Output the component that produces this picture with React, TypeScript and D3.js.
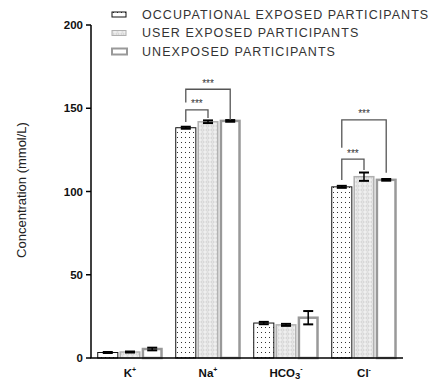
import * as d3 from "d3";

const ions = ["K", "Na", "HCO3", "Cl"];
const ionBase = ["K", "Na", "HCO", "Cl"];
const ionSub = ["", "", "3", ""];
const ionSup = ["+", "+", "-", "-"];

const seriesNames = [
  "OCCUPATIONAL EXPOSED PARTICIPANTS",
  "USER EXPOSED PARTICIPANTS",
  "UNEXPOSED PARTICIPANTS",
];
const occupational = [3.3, 138.3, 21.0, 102.8];
const occupationalErr = [0.3, 0.6, 0.7, 0.6];
const userExposed = [3.6, 141.9, 19.9, 108.9];
const userExposedErr = [0.3, 0.8, 0.6, 2.5];
const unexposed = [5.4, 142.4, 24.2, 107.0];
const unexposedErr = [0.8, 0.5, 4.0, 0.5];

const yTicks = [0, 50, 100, 150, 200];

// significance brackets: group, from series, to series, bracket level, leg ends
const sigGroup = ["Na", "Na", "Cl", "Cl"];
const sigFrom = [0, 0, 0, 0];
const sigTo = [1, 2, 1, 2];
const sigLevel = [149, 161.4, 119.5, 143];
const sigLeftEnd = [141.7, 153.5, 106.9, 126.3];
const sigRightEnd = [144.1, 142.9, 112.9, 111.3];
const sigLabel = ["***", "***", "***", "***"];

const values = [occupational, userExposed, unexposed];
const errors = [occupationalErr, userExposedErr, unexposedErr];
const fills = ["url(#dots)", "url(#rings)", "#ffffff"];
const strokes = ["#111111", "#b0b0b0", "#999999"];
const strokeWidths = [1, 1.5, 2.5];

export default function App() {
  const width = 435;
  const height = 381;
  const x0 = d3.scaleBand(ions, [91, 403]).paddingInner(0.16).paddingOuter(0.08);
  const x1 = d3.scaleBand([0, 1, 2], [0, x0.bandwidth()]).paddingInner(0.05);
  const y = d3.scaleLinear([0, 200], [358, 25]);
  const font = "Arial, 'Liberation Sans', sans-serif";
  const cx = (g: string, s: number) => x0(g)! + x1(s)! + x1.bandwidth() / 2;

  return (
    <svg width={width} height={height} style={{ position: "absolute", left: 0, top: 0 }} fontFamily={font}>
      <defs>
        <pattern id="dots" width="4" height="5" patternUnits="userSpaceOnUse">
          <rect width="4" height="5" fill="#ffffff" />
          <rect x="1" y="2" width="1" height="1" fill="#333" />
        </pattern>
        <pattern id="rings" width="5" height="4" patternUnits="userSpaceOnUse">
          <rect width="5" height="4" fill="#efefef" />
          <ellipse cx="2.5" cy="2" rx="1.6" ry="1.1" fill="none" stroke="#c4c4c4" strokeWidth="0.7" />
        </pattern>
      </defs>

      {/* bars */}
      {ions.map((g, i) => (
        <g key={g}>
          {values.map((vals, s) => {
            const bx = x0(g)! + x1(s)!;
            const bw = x1.bandwidth();
            const sw = strokeWidths[s];
            return (
              <rect
                key={s}
                x={bx + sw / 2}
                y={y(vals[i])}
                width={bw - sw}
                height={y(0) - y(vals[i])}
                fill={fills[s]}
                stroke={strokes[s]}
                strokeWidth={sw}
              />
            );
          })}
          {values.map((vals, s) => {
            const c = cx(g, s);
            const top = y(vals[i] + errors[s][i]);
            const bot = y(vals[i] - errors[s][i]);
            return (
              <g key={"e" + s} stroke="#000" fill="none">
                <line x1={c} x2={c} y1={top} y2={bot} strokeWidth={1.5} />
                <line x1={c - 5} x2={c + 5} y1={top} y2={top} strokeWidth={2} />
                <line x1={c - 5} x2={c + 5} y1={bot} y2={bot} strokeWidth={2} />
              </g>
            );
          })}
        </g>
      ))}

      {/* significance brackets */}
      {sigGroup.map((g, k) => {
        const xa = cx(g, sigFrom[k]);
        const xb = cx(g, sigTo[k]);
        const yl = y(sigLevel[k]);
        return (
          <g key={"sig" + k}>
            <path
              d={`M${xa},${y(sigLeftEnd[k])}V${yl}H${xb}V${y(sigRightEnd[k])}`}
              fill="none"
              stroke="#555"
              strokeWidth={1.3}
            />
            <text x={(xa + xb) / 2} y={yl - 2.5} textAnchor="middle" fontSize={10} fill="#333">
              {sigLabel[k]}
            </text>
          </g>
        );
      })}

      {/* y axis */}
      <line x1={91} x2={91} y1={y(200)} y2={y(0)} stroke="#000" strokeWidth={1.5} />
      {yTicks.map((t) => (
        <g key={t}>
          <line x1={86} x2={91} y1={y(t)} y2={y(t)} stroke="#000" strokeWidth={1.5} />
          <text x={83} y={y(t)} dy="0.35em" textAnchor="end" fontSize={11.5} fontWeight="bold" fill="#111">
            {t}
          </text>
        </g>
      ))}
      <text
        transform={`translate(26,190) rotate(-90)`}
        textAnchor="middle"
        fontSize={13}
        fill="#222"
      >
        Concentration (mmol/L)
      </text>

      {/* x axis */}
      <line x1={90.25} x2={403} y1={y(0)} y2={y(0)} stroke="#000" strokeWidth={1.5} />
      {ions.map((g, i) => (
        <text
          key={g}
          x={x0(g)! + x0.bandwidth() / 2}
          y={377}
          textAnchor="middle"
          fontSize={11.5}
          fontWeight="bold"
          fill="#111"
        >
          {ionBase[i]}
          {ionSub[i] && (
            <tspan fontSize={9.5} dy={2}>
              {ionSub[i]}
            </tspan>
          )}
          <tspan fontSize={7} dy={ionSub[i] ? -8 : -5}>
            {ionSup[i]}
          </tspan>
        </text>
      ))}

      {/* legend */}
      {seriesNames.map((name, s) => {
        const ly = 14.5 + s * 18.5;
        return (
          <g key={name}>
            <rect
              x={112}
              y={ly - (s === 2 ? 3 : 2.5)}
              width={s === 2 ? 15 : 14}
              height={s === 2 ? 6 : 5}
              fill={fills[s]}
              stroke={strokes[s]}
              strokeWidth={s === 2 ? 2 : 1}
            />
            <text x={142} y={ly} dy="0.35em" fontSize={12.5} letterSpacing={1.05} fill="#333">
              {name}
            </text>
          </g>
        );
      })}
    </svg>
  );
}
